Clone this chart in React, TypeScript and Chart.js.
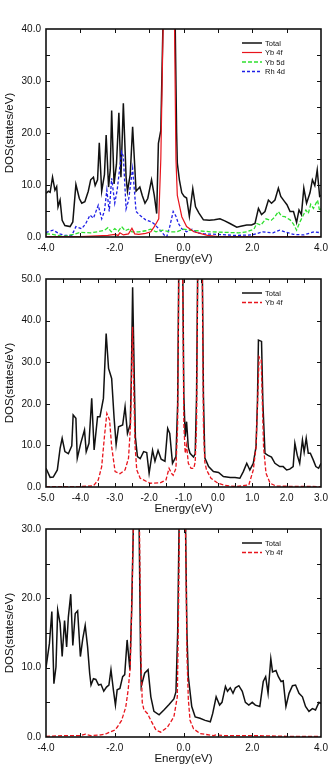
import React, { useEffect, useRef } from "react";
import { Chart, registerables } from "chart.js";

Chart.register(...registerables);

const FONT = "'Liberation Sans', Arial, Helvetica, sans-serif";
const INK = "#111111";
const RED = "#e8141c";
const GREEN = "#2fe02f";
const BLUE = "#1f1fe6";

// ---------- Panel 1: Total / Yb 4f / Yb 5d / Rh 4d, -4..4 eV ----------
const p1TotalE = [-4.0, -3.93, -3.88, -3.81, -3.74, -3.69, -3.65, -3.59, -3.53, -3.45, -3.3, -3.22, -3.13, -3.03, -2.96, -2.87, -2.77, -2.7, -2.62, -2.57, -2.5, -2.45, -2.38, -2.3, -2.25, -2.18, -2.13, -2.09, -2.02, -1.95, -1.88, -1.82, -1.75, -1.67, -1.63, -1.55, -1.48, -1.38, -1.27, -1.2, -1.12, -1.04, -0.93, -0.85, -0.78, -0.73, -0.66, -0.6, -0.5, -0.4, -0.3, -0.24, -0.2, -0.18, -0.12, -0.05, 0.02, 0.09, 0.17, 0.27, 0.35, 0.45, 0.58, 0.75, 0.9, 1.06, 1.2, 1.35, 1.55, 1.7, 1.84, 1.98, 2.08, 2.18, 2.27, 2.37, 2.47, 2.56, 2.66, 2.76, 2.83, 2.93, 3.01, 3.1, 3.2, 3.29, 3.36, 3.43, 3.5, 3.58, 3.68, 3.75, 3.82, 3.89, 3.96, 4.0];
const p1TotalDos = [8.4, 8.8, 8.6, 11.5, 9.0, 9.7, 5.8, 7.1, 3.2, 2.2, 2.0, 2.9, 10.1, 7.4, 6.5, 6.8, 8.8, 11.0, 11.5, 9.9, 11.0, 18.1, 8.8, 12.0, 19.6, 9.6, 13.0, 24.3, 10.2, 14.0, 23.9, 11.5, 25.7, 11.5, 8.8, 12.0, 21.2, 8.8, 9.6, 8.0, 6.5, 7.4, 11.0, 8.0, 4.5, 18.0, 20.5, 40, 70, 72, 62, 40, 20, 14.2, 11.0, 8.5, 7.8, 7.5, 4.0, 9.3, 5.8, 4.6, 3.3, 3.2, 3.3, 3.5, 3.1, 2.6, 1.9, 2.1, 2.3, 2.3, 2.6, 5.5, 4.3, 4.9, 7.1, 6.5, 7.1, 9.4, 7.8, 6.9, 6.2, 4.9, 4.9, 2.8, 5.2, 4.3, 9.4, 6.5, 8.5, 11.0, 9.9, 12.9, 7.8, 8.0];

const p1YbfE = [-4.0, -3.5, -3.0, -2.5, -2.2, -2.0, -1.9, -1.85, -1.75, -1.6, -1.5, -1.42, -1.3, -1.1, -0.95, -0.85, -0.78, -0.72, -0.66, -0.6, -0.5, -0.42, -0.33, -0.26, -0.22, -0.18, -0.1, -0.05, 0.09, 0.3, 0.7, 1.0, 2.0, 3.0, 4.0];
const p1YbfDos = [0.1, 0.1, 0.1, 0.2, 0.3, 0.5, 0.3, 0.8, 0.4, 0.6, 1.7, 0.6, 0.5, 0.7, 1.0, 2.0, 2.8, 3.5, 15, 38, 68, 70, 58, 40, 15, 8.0, 5.5, 3.9, 2.0, 1.0, 0.3, 0.1, 0.1, 0.1, 0.1];

const p1YbdE = [-4.0, -3.8, -3.5, -3.2, -3.0, -2.7, -2.5, -2.3, -2.2, -2.1, -2.0, -1.9, -1.8, -1.7, -1.6, -1.5, -1.3, -1.1, -0.95, -0.8, -0.6, -0.4, -0.2, 0.0, 0.2, 0.4, 0.8, 1.2, 1.6, 1.84, 2.05, 2.13, 2.25, 2.4, 2.55, 2.65, 2.76, 2.85, 2.95, 3.1, 3.2, 3.29, 3.38, 3.47, 3.56, 3.63, 3.7, 3.78, 3.9, 3.96, 4.0];
const p1YbdDos = [0.6, 0.5, 0.1, 0.5, 0.9, 0.8, 1.0, 1.3, 1.8, 1.0, 1.6, 1.1, 2.0, 1.2, 1.5, 1.0, 1.0, 1.2, 1.5, 1.0, 1.3, 1.0, 1.0, 1.5, 1.3, 1.2, 1.0, 0.9, 0.8, 1.0, 1.5, 2.6, 2.3, 3.5, 3.2, 3.8, 4.9, 4.0, 3.9, 3.3, 2.5, 1.3, 2.8, 4.0, 5.2, 4.5, 6.3, 5.5, 7.1, 5.0, 5.5];

const p1RhdE = [-4.0, -3.95, -3.79, -3.6, -3.45, -3.25, -3.13, -2.96, -2.85, -2.72, -2.62, -2.48, -2.38, -2.3, -2.23, -2.16, -2.09, -2.0, -1.93, -1.8, -1.75, -1.67, -1.6, -1.48, -1.38, -1.27, -1.1, -0.93, -0.85, -0.78, -0.68, -0.55, -0.49, -0.4, -0.3, -0.22, -0.15, -0.05, 0.09, 0.25, 0.4, 0.6, 1.0, 1.5, 2.0, 2.3, 2.6, 2.8, 3.2, 3.5, 3.8, 4.0];
const p1RhdDos = [0.8, 1.0, 1.3, 0.6, 0.3, 0.3, 2.0, 1.6, 2.5, 4.2, 3.6, 6.1, 3.5, 5.0, 9.0, 4.9, 11.3, 6.5, 9.0, 16.4, 15.5, 5.4, 7.0, 13.2, 4.9, 4.2, 3.3, 2.9, 2.5, 2.0, 1.3, 0.3, 0.0, 2.0, 4.9, 4.0, 2.6, 1.6, 1.0, 1.5, 0.8, 0.6, 0.5, 0.3, 0.4, 1.0, 0.8, 1.3, 0.5, 0.4, 1.0, 0.8];

// ---------- Panel 2: Total / Yb 4f, -5..3 eV ----------
const p2TotalE = [-5.0, -4.88, -4.79, -4.67, -4.59, -4.53, -4.45, -4.35, -4.25, -4.21, -4.13, -4.09, -3.99, -3.88, -3.83, -3.75, -3.67, -3.6, -3.5, -3.43, -3.33, -3.25, -3.18, -3.09, -3.02, -2.96, -2.89, -2.77, -2.7, -2.63, -2.55, -2.52, -2.48, -2.44, -2.4, -2.34, -2.26, -2.16, -2.07, -2.0, -1.9, -1.83, -1.74, -1.65, -1.54, -1.46, -1.4, -1.32, -1.22, -1.17, -1.14, -1.08, -1.02, -0.99, -0.95, -0.91, -0.86, -0.81, -0.71, -0.66, -0.62, -0.59, -0.52, -0.45, -0.42, -0.38, -0.27, -0.13, 0.02, 0.16, 0.36, 0.5, 0.64, 0.74, 0.84, 0.93, 1.03, 1.11, 1.15, 1.18, 1.27, 1.31, 1.37, 1.46, 1.56, 1.66, 1.8, 1.9, 2.0, 2.09, 2.19, 2.24, 2.31, 2.38, 2.46, 2.51, 2.57, 2.63, 2.69, 2.78, 2.85, 2.93, 3.0];
const p2TotalDos = [4.5, 2.3, 2.4, 4.1, 9.3, 11.7, 8.5, 8.0, 9.9, 17.3, 16.5, 6.9, 10.5, 13.7, 8.5, 10.5, 21.3, 8.9, 16.9, 16.9, 21.3, 36.9, 28.5, 26.1, 16.7, 10.2, 14.5, 14.9, 19.3, 12.9, 15.0, 25, 48.0, 30, 12, 7.3, 6.8, 8.5, 8.3, 3.3, 8.8, 6.2, 8.8, 6.7, 6.2, 14.1, 12.9, 5.7, 7.3, 20, 50, 92, 50, 22, 12.1, 15.7, 9.5, 8.1, 7.2, 8.0, 22, 50, 92, 50, 22, 7.0, 4.9, 3.7, 3.5, 2.5, 2.3, 2.3, 2.1, 3.7, 5.7, 4.1, 5.7, 9.7, 20, 35.3, 35.0, 20, 8.1, 7.6, 7.2, 5.7, 4.9, 4.9, 4.1, 4.3, 4.9, 10.5, 7.6, 5.7, 11.3, 8.4, 11.7, 8.1, 8.1, 6.4, 4.9, 4.5, 5.7];

const p2YbfE = [-5.0, -4.0, -3.62, -3.48, -3.38, -3.3, -3.23, -3.15, -3.09, -2.99, -2.85, -2.7, -2.6, -2.54, -2.51, -2.48, -2.45, -2.41, -2.36, -2.26, -1.97, -1.68, -1.51, -1.42, -1.35, -1.3, -1.22, -1.17, -1.14, -1.08, -1.02, -0.99, -0.95, -0.91, -0.86, -0.78, -0.7, -0.66, -0.62, -0.59, -0.52, -0.45, -0.42, -0.38, -0.33, -0.2, 0.0, 0.2, 0.54, 0.9, 1.03, 1.11, 1.2, 1.26, 1.33, 1.4, 1.52, 1.7, 3.0];
const p2YbfDos = [0.1, 0.1, 0.3, 1.7, 4.9, 12.1, 17.7, 16.1, 9.7, 3.7, 3.2, 4.1, 6.9, 15, 28, 38.5, 25, 10, 4.1, 2.1, 0.9, 1.0, 1.7, 4.5, 3.3, 2.8, 4.5, 15, 48, 85, 48, 15, 8.1, 10.1, 5.7, 4.5, 4.5, 6.0, 15, 48, 85, 48, 15, 6.0, 4.1, 2.1, 0.9, 0.4, 0.1, 0.5, 4.1, 9.5, 31.3, 30.5, 9.5, 3.3, 0.9, 0.2, 0.1];

// ---------- Panel 3: Total / Yb 4f, -4..4 eV ----------
const p3TotalE = [-4.0, -3.9, -3.83, -3.77, -3.71, -3.66, -3.59, -3.53, -3.46, -3.4, -3.35, -3.28, -3.22, -3.15, -3.08, -3.0, -2.93, -2.86, -2.79, -2.73, -2.69, -2.62, -2.55, -2.47, -2.4, -2.32, -2.24, -2.17, -2.11, -2.04, -1.98, -1.93, -1.85, -1.77, -1.71, -1.64, -1.56, -1.51, -1.46, -1.37, -1.29, -1.25, -1.23, -1.13, -1.03, -0.95, -0.86, -0.71, -0.57, -0.42, -0.28, -0.22, -0.17, -0.13, -0.04, 0.06, 0.1, 0.14, 0.24, 0.34, 0.48, 0.63, 0.78, 0.85, 0.95, 1.05, 1.12, 1.22, 1.28, 1.36, 1.44, 1.51, 1.61, 1.71, 1.8, 1.9, 2.0, 2.09, 2.22, 2.32, 2.39, 2.46, 2.54, 2.59, 2.69, 2.76, 2.84, 2.9, 2.98, 3.07, 3.17, 3.26, 3.36, 3.46, 3.55, 3.65, 3.75, 3.84, 3.94, 4.0];
const p3TotalDos = [10.0, 13.5, 18.1, 7.7, 10.1, 18.3, 16.4, 11.6, 16.8, 13.0, 17.3, 20.6, 13.2, 17.8, 18.2, 11.6, 14.2, 16.1, 13.0, 9.2, 7.5, 8.4, 8.3, 7.5, 7.6, 6.6, 7.2, 7.5, 9.7, 6.8, 4.6, 6.8, 7.0, 8.7, 9.0, 14.0, 9.7, 18, 30, 56, 30, 12, 7.3, 9.2, 9.7, 5.8, 3.7, 3.2, 3.9, 4.7, 5.5, 6.5, 15, 30, 56, 30, 15, 8.7, 4.4, 2.9, 2.7, 2.4, 2.2, 3.4, 5.8, 4.6, 5.0, 7.3, 6.6, 7.1, 6.3, 7.1, 7.4, 6.6, 5.0, 4.6, 5.0, 4.6, 4.4, 8.0, 8.7, 6.3, 11.3, 9.4, 9.6, 8.7, 8.0, 8.1, 4.4, 6.3, 7.4, 7.5, 6.3, 5.8, 4.4, 3.7, 4.1, 3.9, 5.0, 4.8];

const p3YbfE = [-4.0, -3.5, -3.0, -2.85, -2.7, -2.4, -2.24, -2.0, -1.93, -1.8, -1.68, -1.61, -1.55, -1.5, -1.46, -1.37, -1.28, -1.24, -1.2, -1.15, -1.05, -0.95, -0.8, -0.66, -0.47, -0.28, -0.18, -0.14, -0.12, -0.04, 0.06, 0.1, 0.14, 0.19, 0.29, 0.48, 0.87, 0.95, 1.2, 2.0, 3.0, 4.0];
const p3YbfDos = [0.1, 0.2, 0.2, 0.4, 0.2, 0.3, 0.5, 1.0, 1.4, 2.4, 4.3, 6.8, 10, 20, 30, 52, 30, 12, 5, 3.9, 3.4, 2.4, 1.0, 0.7, 1.4, 2.9, 5.8, 20, 30, 52, 30, 12, 5.5, 2.4, 1.2, 0.5, 0.2, 0.3, 0.2, 0.2, 0.1, 0.1];

const X_TITLE = "Energy(eV)";
const Y_TITLE = "DOS(states/eV)";

type Curve = {
  label: string;
  e: number[];
  dos: number[];
  color: string;
  width: number;
  dash: number[];
  order: number;
};

type PanelSpec = {
  top: number;
  height: number;
  padTop: number;
  xMin: number;
  xMax: number;
  xStep: number;
  xMinor: number;
  yMax: number;
  yStep: number;
  yMinor: number;
  curves: Curve[];
};

const panels: PanelSpec[] = [
  {
    top: 0,
    height: 265,
    padTop: 29,
    xMin: -4,
    xMax: 4,
    xStep: 2,
    xMinor: 1,
    yMax: 40,
    yStep: 10,
    yMinor: 5,
    curves: [
      { label: "Total", e: p1TotalE, dos: p1TotalDos, color: INK, width: 1.5, dash: [], order: 4 },
      { label: "Yb 4f", e: p1YbfE, dos: p1YbfDos, color: RED, width: 1.2, dash: [], order: 1 },
      { label: "Yb 5d", e: p1YbdE, dos: p1YbdDos, color: GREEN, width: 1.3, dash: [4, 2], order: 2 },
      { label: "Rh 4d", e: p1RhdE, dos: p1RhdDos, color: BLUE, width: 1.3, dash: [3, 2], order: 3 },
    ],
  },
  {
    top: 265,
    height: 250,
    padTop: 14,
    xMin: -5,
    xMax: 3,
    xStep: 1,
    xMinor: 0.5,
    yMax: 50,
    yStep: 10,
    yMinor: 10,
    curves: [
      { label: "Total", e: p2TotalE, dos: p2TotalDos, color: INK, width: 1.5, dash: [], order: 2 },
      { label: "Yb 4f", e: p2YbfE, dos: p2YbfDos, color: RED, width: 1.3, dash: [4, 2], order: 1 },
    ],
  },
  {
    top: 515,
    height: 250,
    padTop: 14,
    xMin: -4,
    xMax: 4,
    xStep: 2,
    xMinor: 1,
    yMax: 30,
    yStep: 10,
    yMinor: 5,
    curves: [
      { label: "Total", e: p3TotalE, dos: p3TotalDos, color: INK, width: 1.5, dash: [], order: 2 },
      { label: "Yb 4f", e: p3YbfE, dos: p3YbfDos, color: RED, width: 1.3, dash: [4, 2], order: 1 },
    ],
  },
];

function makeFramePlugin(spec: PanelSpec) {
  return {
    id: "frameTicksLegend",
    afterDatasetsDraw(chart: any) {
      const { ctx, chartArea, scales } = chart;
      const { left, right, top, bottom } = chartArea;
      const xs = scales.x;
      const ys = scales.y;
      ctx.save();
      ctx.strokeStyle = INK;
      ctx.lineWidth = 1;
      ctx.setLineDash([]);
      const tick = 4;
      ctx.beginPath();
      const nx = Math.round((spec.xMax - spec.xMin) / spec.xMinor);
      for (let i = 1; i < nx; i++) {
        const px = Math.round(xs.getPixelForValue(spec.xMin + i * spec.xMinor)) + 0.5;
        ctx.moveTo(px, bottom);
        ctx.lineTo(px, bottom - tick);
        ctx.moveTo(px, top);
        ctx.lineTo(px, top + tick);
      }
      const ny = Math.round(spec.yMax / spec.yMinor);
      for (let i = 1; i < ny; i++) {
        const py = Math.round(ys.getPixelForValue(i * spec.yMinor)) + 0.5;
        ctx.moveTo(left, py);
        ctx.lineTo(left + tick, py);
        ctx.moveTo(right, py);
        ctx.lineTo(right - tick, py);
      }
      ctx.stroke();

      ctx.lineWidth = 1.6;
      ctx.strokeRect(left, top, right - left, bottom - top);

      // legend, upper right inside the frame
      const x0 = right - 79;
      const x1 = right - 59;
      const tx = right - 56;
      ctx.font = `7.5px ${FONT}`;
      ctx.textBaseline = "middle";
      ctx.textAlign = "left";
      spec.curves.forEach((c, i) => {
        const y = top + 14 + i * 9.5;
        ctx.strokeStyle = c.color;
        ctx.lineWidth = c.width;
        ctx.setLineDash(c.dash);
        ctx.beginPath();
        ctx.moveTo(x0, y);
        ctx.lineTo(x1, y);
        ctx.stroke();
        ctx.setLineDash([]);
        ctx.fillStyle = INK;
        ctx.fillText(c.label, tx, y + 0.5);
      });
      ctx.restore();
    },
  };
}

function DosPanel({ spec }: { spec: PanelSpec }) {
  const ref = useRef<HTMLCanvasElement | null>(null);

  useEffect(() => {
    const canvas = ref.current;
    if (!canvas) return;
    const chart = new Chart(canvas, {
      type: "scatter",
      data: {
        datasets: spec.curves.map((c) => ({
          label: c.label,
          data: c.e.map((x, k) => ({ x, y: c.dos[k] })),
          showLine: true,
          borderColor: c.color,
          backgroundColor: c.color,
          borderWidth: c.width,
          borderDash: c.dash,
          pointRadius: 0,
          pointHoverRadius: 0,
          tension: 0,
          fill: false,
          clip: 0,
          order: c.order,
        })),
      },
      options: {
        animation: false,
        responsive: false,
        events: [],
        layout: { padding: { top: spec.padTop, right: 8, left: 0, bottom: 0 } },
        plugins: { legend: { display: false }, tooltip: { enabled: false } },
        scales: {
          x: {
            type: "linear",
            min: spec.xMin,
            max: spec.xMax,
            afterFit: (s: any) => {
              s.height = 28;
              s.paddingLeft = 0;
              s.paddingRight = 0;
            },
            grid: { display: false, drawTicks: false },
            border: { display: false },
            ticks: {
              stepSize: spec.xStep,
              autoSkip: false,
              maxRotation: 0,
              padding: 5,
              color: INK,
              font: { family: FONT, size: 10 },
              callback: (v: any) => Number(v).toFixed(1),
            },
            title: {
              display: true,
              text: X_TITLE,
              color: INK,
              padding: 0,
              font: { family: FONT, size: 11.5, lineHeight: 1 },
            },
          },
          y: {
            type: "linear",
            min: 0,
            max: spec.yMax,
            afterFit: (s: any) => {
              s.width = 46;
              s.paddingTop = 0;
              s.paddingBottom = 0;
            },
            grid: { display: false, drawTicks: false },
            border: { display: false },
            ticks: {
              stepSize: spec.yStep,
              padding: 5,
              color: INK,
              font: { family: FONT, size: 10 },
              callback: (v: any) => Number(v).toFixed(1),
            },
            title: {
              display: true,
              text: Y_TITLE,
              color: INK,
              padding: { top: 4, bottom: 0 },
              font: { family: FONT, size: 11.5, lineHeight: 1 },
            },
          },
        },
      },
      plugins: [makeFramePlugin(spec)],
    } as any);
    return () => chart.destroy();
  }, [spec]);

  return (
    <canvas
      ref={ref}
      width={329}
      height={spec.height}
      style={{ position: "absolute", left: 0, top: spec.top, width: 329, height: spec.height, display: "block" }}
    />
  );
}

export default function App() {
  return (
    <div style={{ position: "absolute", left: 0, top: 0, width: 329, height: 765, background: "#ffffff", overflow: "hidden" }}>
      {panels.map((p, i) => (
        <DosPanel key={i} spec={p} />
      ))}
    </div>
  );
}
